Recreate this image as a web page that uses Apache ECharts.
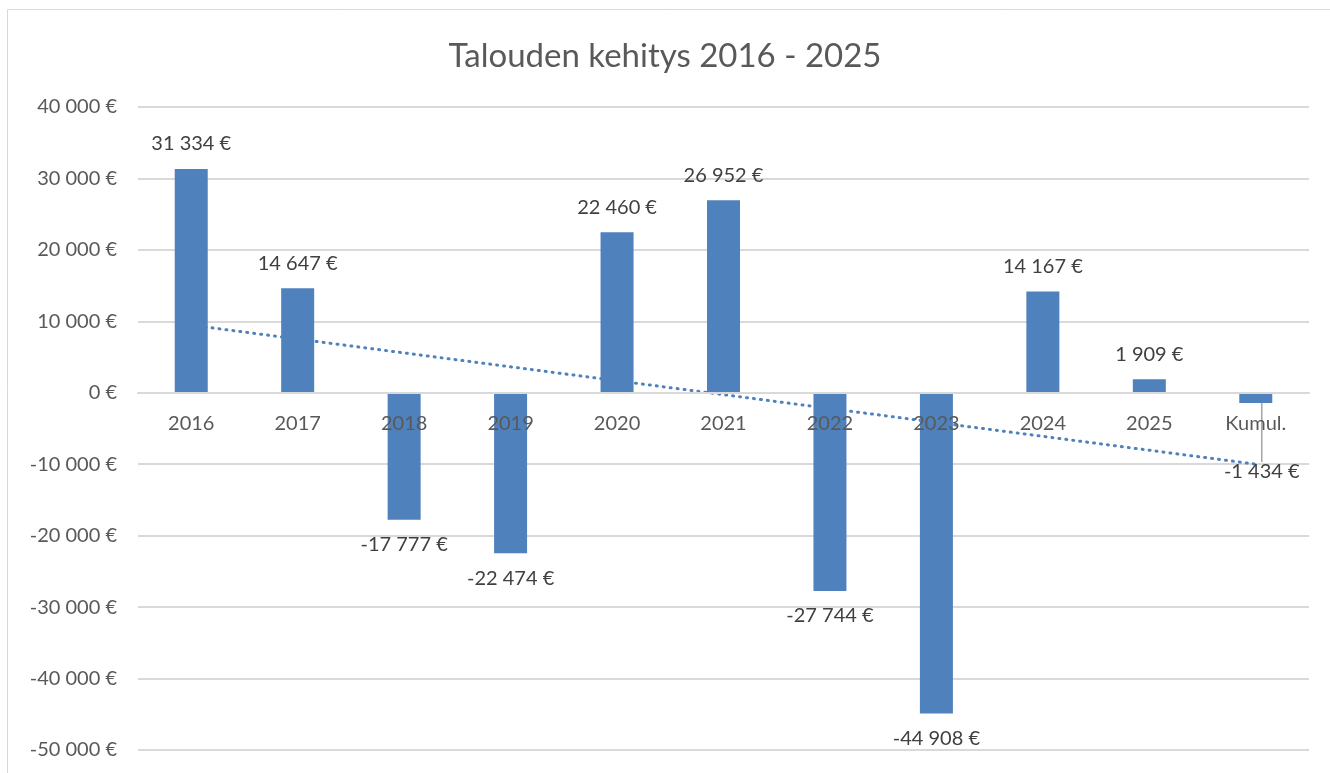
<!DOCTYPE html>
<html>
<head>
<meta charset="utf-8">
<script src="https://cdn.jsdelivr.net/npm/echarts@6/dist/echarts.min.js"></script>
<style>
  html, body { margin: 0; padding: 0; background: #fff; }
  #chart { width: 1330px; height: 773px; }
</style>
</head>
<body>
<div id="chart"></div>
<script>
// data
var categories = ["2016", "2017", "2018", "2019", "2020", "2021", "2022", "2023", "2024", "2025", "Kumul."];
var values = [31334, 14647, -17777, -22474, 22460, 26952, -27744, -44908, 14167, 1909, -1434];
// dotted trend line, end points
var trendCats = ["2016", "Kumul."];
var trendValues = [9470, -9990];

function euro(v) {
  var s = Math.abs(Math.round(v)).toString().replace(/\B(?=(\d{3})+(?!\d))/g, " ");
  return (v < 0 ? "-" : "") + s + " €";
}

var chart = echarts.init(document.getElementById("chart"));
var FONT = "Lato";
var TXT = "#595959";
// grid: top 107, bottom 750 -> zero line sits 5/9 of the way up from the bottom
var GRID_TOP = 107, GRID_BOTTOM = 23;
var plotH = 773 - GRID_TOP - GRID_BOTTOM;
var zeroOffset = -plotH * 50000 / 90000;

var option = {
  animation: false,
  textStyle: { fontFamily: FONT },
  title: {
    text: "Talouden kehitys 2016 - 2025",
    left: "center",
    top: 35,
    textStyle: { fontFamily: FONT, fontSize: 33, fontWeight: "normal", color: TXT }
  },
  graphic: [
    {
      type: "rect",
      shape: { x: 7.5, y: 9.5, width: 1400, height: 900 },
      style: { fill: "none", stroke: "#d9d9d9", lineWidth: 1 },
      silent: true
    }
  ],
  grid: { left: 138, right: 21, top: GRID_TOP, bottom: GRID_BOTTOM, outerBoundsMode: "none", containLabel: false },
  xAxis: {
    type: "category",
    data: categories,
    z: 10,
    offset: zeroOffset,
    axisLine: { show: true, onZero: false, lineStyle: { color: "#d9d9d9", width: 2 } },
    axisTick: { show: false },
    axisLabel: { fontFamily: FONT, fontSize: 20, color: TXT, margin: 21 }
  },
  yAxis: {
    type: "value",
    min: -50000,
    max: 40000,
    interval: 10000,
    axisLine: { show: false },
    axisTick: { show: false },
    splitLine: { lineStyle: { color: "#d9d9d9", width: 2 } },
    axisLabel: {
      fontFamily: FONT, fontSize: 20, color: TXT, margin: 21,
      formatter: function (v) { return euro(v); }
    }
  },
  series: [
    {
      type: "line",
      z: 1,
      data: trendCats.map(function (c, i) { return [c, trendValues[i]]; }),
      symbol: "none",
      lineStyle: { color: "#4f81bd", width: 3, type: [1, 6], cap: "round" },
      silent: true
    },
    {
      type: "bar",
      z: 2,
      barWidth: 33,
      itemStyle: { color: "#4f81bd" },
      data: values.map(function (v, i) {
        var item = {
          value: v,
          label: { position: v >= 0 ? "top" : "bottom" }
        };
        if (i === categories.length - 1) {
          item.labelLine = { show: true, lineStyle: { color: "#a6a6a6", width: 1.5 } };
        }
        return item;
      }),
      label: {
        show: true,
        fontFamily: FONT,
        fontSize: 20,
        color: "#404040",
        distance: 15,
        formatter: function (p) { return euro(p.value); }
      },
      labelLayout: function (p) {
        if (p.dataIndex === categories.length - 1) {
          return { dx: 6, dy: 44 };
        }
      }
    }
  ]
};

chart.setOption(option);
</script>
</body>
</html>
